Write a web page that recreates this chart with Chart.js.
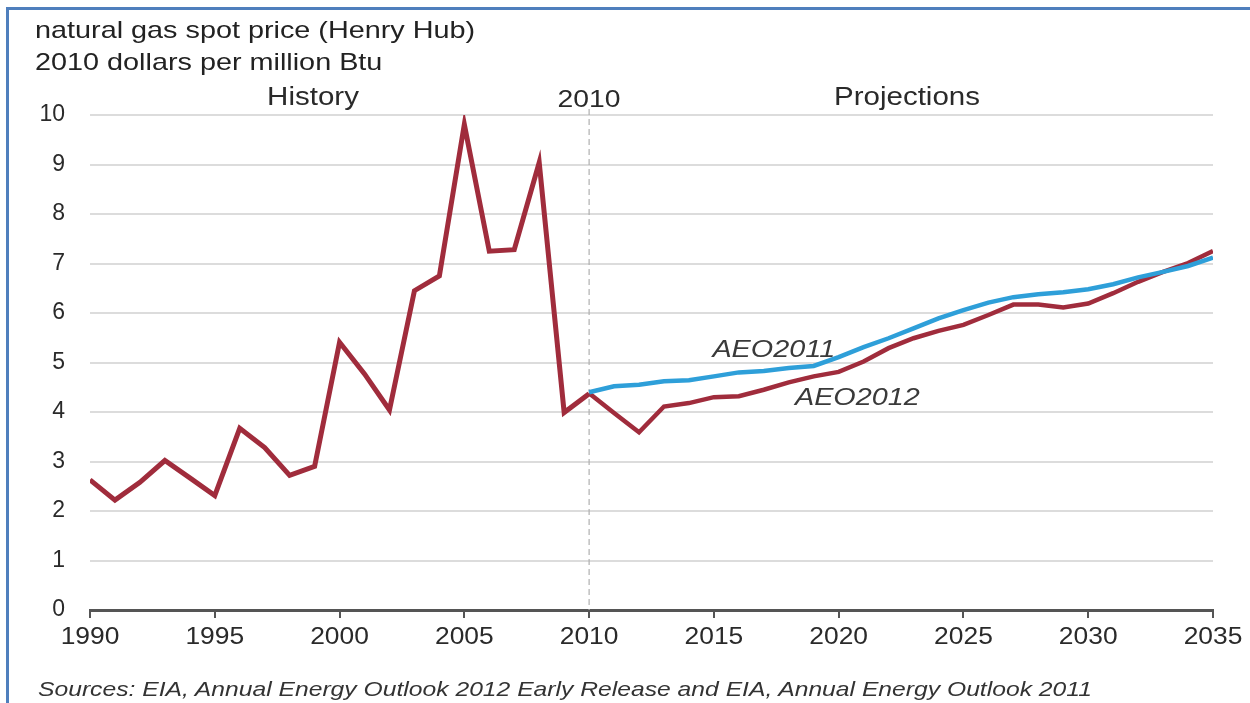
<!DOCTYPE html>
<html>
<head>
<meta charset="utf-8">
<script src="https://cdn.jsdelivr.net/npm/chart.js@4"></script>
<style>
  html, body { margin: 0; padding: 0; background: #fff; }
  body { width: 1250px; height: 703px; position: relative; overflow: hidden; font-family: "Liberation Sans", Arial, sans-serif; }
  #frame { position: absolute; left: 6px; top: 7px; width: 1250px; height: 703px; border-left: 3px solid #4f7fbd; border-top: 3px solid #4f7fbd; }
  #chart { position: absolute; left: 0; top: 0; }
  .title { position: absolute; left: 35px; top: 14px; font-size: 24px; line-height: 32px; color: #222;
           transform: scaleX(1.2); transform-origin: left top; white-space: nowrap; }
  .source { position: absolute; left: 38px; top: 677px; font-size: 21px; font-style: italic; color: #333; white-space: nowrap;
            transform: scaleX(1.175); transform-origin: left top; }
</style>
</head>
<body>
<div id="frame"></div>
<canvas id="chart" width="1250" height="703"></canvas>
<div class="title">natural gas spot price (Henry Hub)<br>2010 dollars per million Btu</div>
<div class="source">Sources: EIA, Annual Energy Outlook 2012 Early Release and EIA, Annual Energy Outlook 2011</div>
<script>
// ---- data ----
const historyYears = [1990, 1991, 1992, 1993, 1994, 1995, 1996, 1997, 1998, 1999, 2000,
                      2001, 2002, 2003, 2004, 2005, 2006, 2007, 2008, 2009, 2010];
const historyPrice = [2.63, 2.22, 2.58, 3.02, 2.67, 2.31, 3.67, 3.28, 2.72, 2.90, 5.41,
                      4.77, 4.04, 6.45, 6.75, 9.81, 7.25, 7.28, 9.04, 3.99, 4.37];

const projYears = [2010, 2011, 2012, 2013, 2014, 2015, 2016, 2017, 2018, 2019, 2020, 2021, 2022,
                   2023, 2024, 2025, 2026, 2027, 2028, 2029, 2030, 2031, 2032, 2033, 2034, 2035];
const aeo2012 = [4.38, 3.98, 3.59, 4.11, 4.18, 4.30, 4.32, 4.45, 4.60, 4.72, 4.81, 5.02, 5.29,
                 5.49, 5.64, 5.76, 5.96, 6.17, 6.17, 6.11, 6.19, 6.40, 6.63, 6.83, 7.01, 7.25];
const aeo2011 = [4.40, 4.52, 4.55, 4.62, 4.64, 4.72, 4.80, 4.83, 4.89, 4.93, 5.11, 5.31, 5.49,
                 5.69, 5.89, 6.06, 6.21, 6.32, 6.38, 6.42, 6.48, 6.58, 6.72, 6.83, 6.95, 7.12];

const yTicks = [0, 1, 2, 3, 4, 5, 6, 7, 8, 9, 10];
const xTicks = [1990, 1995, 2000, 2005, 2010, 2015, 2020, 2025, 2030, 2035];

const splitYear = 2010;

// text labels placed in data coordinates
const notes = [
    { text: 'AEO2011', x: 2017.4, y: 5.25 },
    { text: 'AEO2012', x: 2020.75, y: 4.28 }
];

const RED = '#a02c3c';
const BLUE = '#2e9fd9';
const FONT = '"Liberation Sans", Arial, sans-serif';
const STRETCH = 1.18; // the source picture is stretched sideways

function toPoints(xs, ys) {
    return xs.map((x, i) => ({ x: x, y: ys[i] }));
}

function wideText(ctx, text, x, y, sx) {
    ctx.save();
    ctx.translate(x, y);
    ctx.scale(sx, 1);
    ctx.fillText(text, 0, 0);
    ctx.restore();
}

// Dashed 2010 divider, header words, series labels, x tick labels
const annotations = {
    id: 'annotations',
    beforeDatasetsDraw(chart) {
        const { ctx, chartArea, scales } = chart;
        const x = scales.x.getPixelForValue(splitYear);
        ctx.save();
        ctx.strokeStyle = '#b0b0b0';
        ctx.lineWidth = 1.2;
        ctx.setLineDash([6, 4]);
        ctx.beginPath();
        ctx.moveTo(x, chartArea.top - 6);
        ctx.lineTo(x, chartArea.bottom);
        ctx.stroke();
        ctx.restore();
    },
    afterDatasetsDraw(chart) {
        const { ctx, scales, chartArea } = chart;
        ctx.save();
        ctx.fillStyle = '#2a2a2a';
        ctx.textAlign = 'center';
        ctx.textBaseline = 'middle';
        ctx.font = '25px ' + FONT;
        wideText(ctx, 'History', 313, 98, STRETCH);
        wideText(ctx, 'Projections', 907, 98, STRETCH);
        ctx.font = '24px ' + FONT;
        wideText(ctx, String(splitYear), scales.x.getPixelForValue(splitYear), 100, STRETCH);

        // x tick labels, drawn a little wide like the source
        scales.x.ticks.forEach(t => {
            wideText(ctx, String(t.value), scales.x.getPixelForValue(t.value), chartArea.bottom + 27, 1.1);
        });

        ctx.fillStyle = '#3a3a3a';
        ctx.font = 'italic 24px ' + FONT;
        notes.forEach(n => {
            wideText(ctx, n.text, scales.x.getPixelForValue(n.x), scales.y.getPixelForValue(n.y), 1.2);
        });
        ctx.restore();
    }
};

new Chart(document.getElementById('chart').getContext('2d'), {
    type: 'line',
    data: {
        datasets: [
            {
                label: 'AEO2011',
                data: toPoints(projYears, aeo2011),
                borderColor: BLUE,
                borderWidth: 4.5,
                pointRadius: 0,
                tension: 0
            },
            {
                label: 'AEO2012',
                data: toPoints(projYears, aeo2012),
                borderColor: RED,
                borderWidth: 4.5,
                pointRadius: 0,
                tension: 0
            },
            {
                label: 'History',
                data: toPoints(historyYears, historyPrice),
                borderColor: RED,
                borderWidth: 5,
                pointRadius: 0,
                tension: 0
            }
        ]
    },
    options: {
        responsive: false,
        animation: false,
        layout: { padding: { left: 30, right: 37, top: 115, bottom: 48 } },
        plugins: {
            legend: { display: false },
            tooltip: { enabled: false }
        },
        scales: {
            x: {
                type: 'linear',
                min: 1990,
                max: 2035,
                afterBuildTicks: (scale) => { scale.ticks = xTicks.map(v => ({ value: v })); },
                afterFit: (scale) => { scale.height = 45; },
                ticks: { display: false },
                grid: { drawOnChartArea: false, drawTicks: true, tickLength: 8, color: '#555', lineWidth: 2 },
                border: { display: true, color: '#555', width: 3 }
            },
            y: {
                min: 0,
                max: 10,
                afterBuildTicks: (scale) => { scale.ticks = yTicks.map(v => ({ value: v })); },
                afterFit: (scale) => { scale.width = 60; },
                ticks: {
                    color: '#2a2a2a',
                    font: { family: FONT, size: 23 },
                    padding: 25,
                    callback: (v) => String(v)
                },
                grid: { drawTicks: false, color: '#dcdcdc', lineWidth: 2 },
                border: { display: false }
            }
        }
    },
    plugins: [annotations]
});
</script>
</body>
</html>
